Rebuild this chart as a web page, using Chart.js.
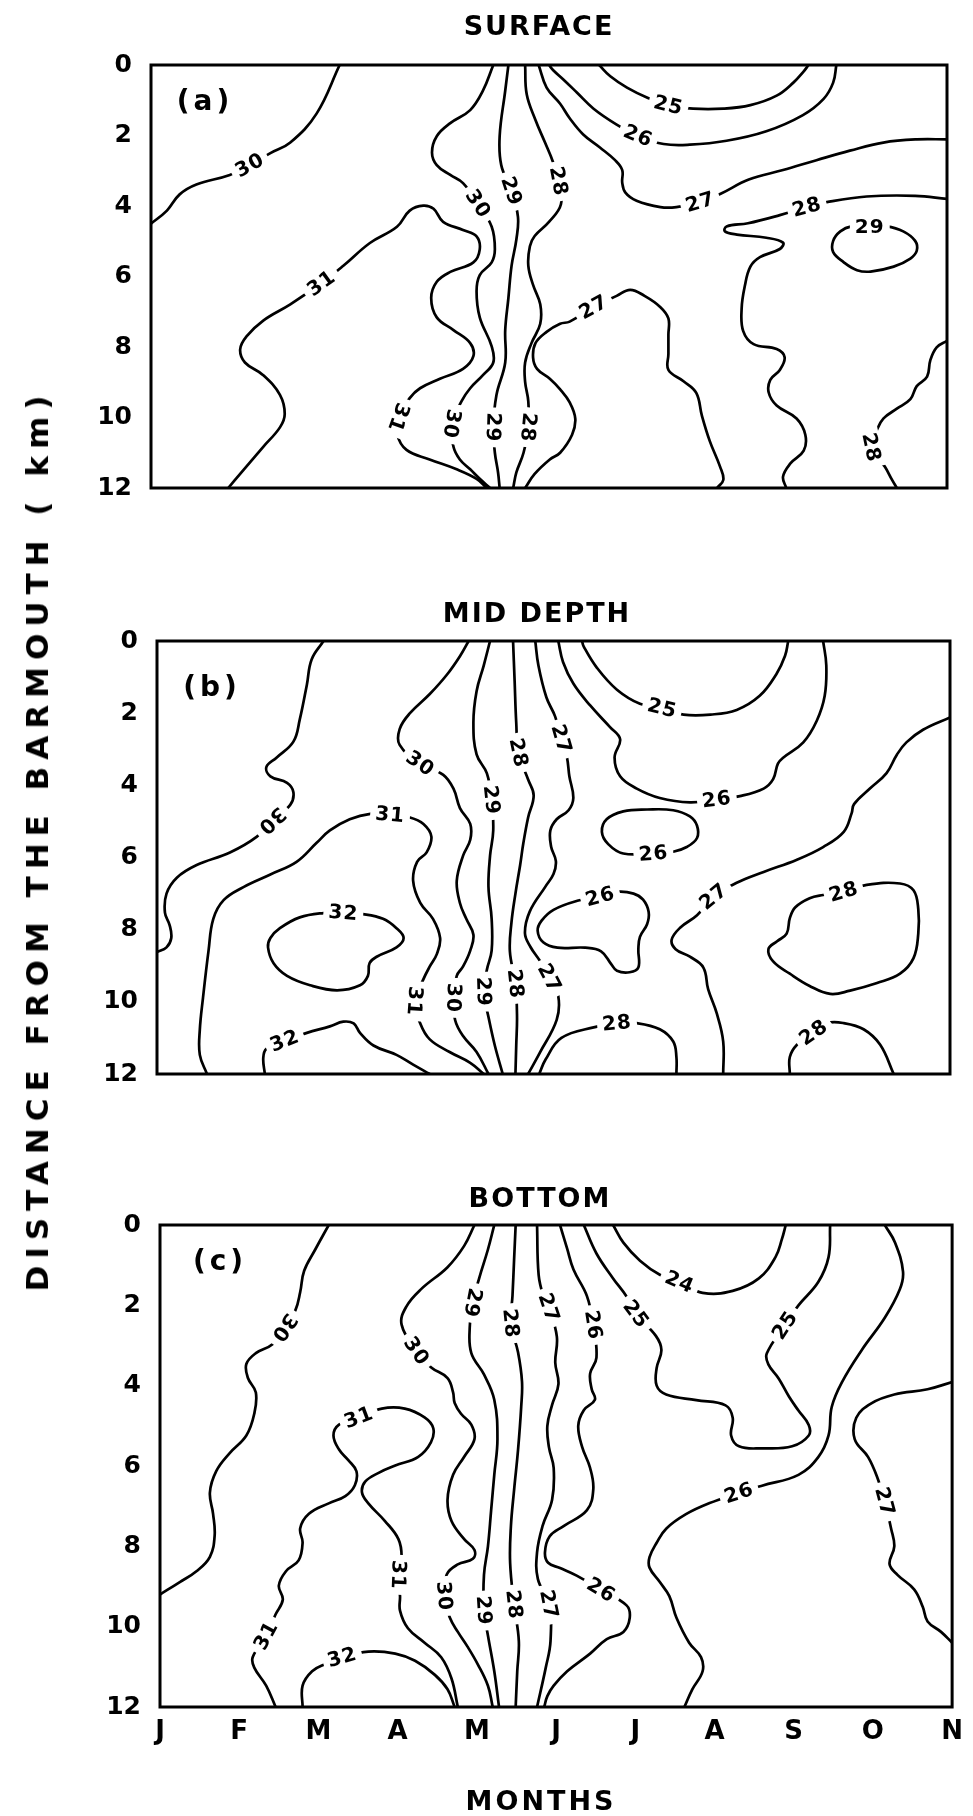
<!DOCTYPE html>
<html>
<head>
<meta charset="utf-8">
<title>Distance from the barmouth by month</title>
<script src="https://cdn.jsdelivr.net/npm/chart.js@4.4.1/dist/chart.umd.min.js"></script>
<style>
  html, body { margin: 0; padding: 0; background: #fff; }
  body { position: relative; width: 973px; height: 1816px; overflow: hidden; }
  canvas { position: absolute; left: 0; }
  .axis-title {
    position: absolute; white-space: nowrap; color: #000;
    font-family: "DejaVu Sans", sans-serif; font-weight: bold;
  }
  #ytitle {
    left: 37px; top: 840px; font-size: 31px; letter-spacing: 7px;
    transform: translate(-50%, -50%) rotate(-90deg);
  }
  #xtitle {
    left: 541px; top: 1800px; font-size: 27px; letter-spacing: 3px;
    transform: translate(-50%, -50%);
  }
</style>
</head>
<body>
<canvas id="surface" width="973" height="560" style="top:0;width:973px;height:560px"></canvas>
<canvas id="middepth" width="973" height="570" style="top:580px;width:973px;height:570px"></canvas>
<canvas id="bottom" width="973" height="656" style="top:1160px;width:973px;height:656px"></canvas>
<div id="ytitle" class="axis-title">DISTANCE FROM THE BARMOUTH ( km)</div>
<div id="xtitle" class="axis-title">MONTHS</div>

<script>
// x = month (0 = J ... 10 = N), y = km from the barmouth
const months = ['J', 'F', 'M', 'A', 'M', 'J', 'J', 'A', 'S', 'O', 'N'];
const depthTicks = [0, 2, 4, 6, 8, 10, 12];

// each contour: its level, where its labels sit, and the traced line
const surface = [
  { level: 30, labels: [[1.24, 2.84]], pts: [[0, 4.5], [0.2, 4.13], [0.36, 3.67], [0.57, 3.39], [0.99, 3.12], [1.24, 2.84], [1.5, 2.5], [1.75, 2.2], [2.08, 1.38], [2.37, 0]] },
  { level: 31, labels: [[2.14, 6.19], [3.11, 10.0]], pts: [[0.97, 12], [1.12, 11.6], [1.41, 10.83], [1.62, 10.28], [1.68, 9.9], [1.62, 9.36], [1.41, 8.8], [1.18, 8.44], [1.12, 8.07], [1.2, 7.7], [1.41, 7.25], [1.75, 6.79], [2.14, 6.19], [2.42, 5.69], [2.75, 5.05], [3.09, 4.59], [3.25, 4.13], [3.42, 3.99], [3.55, 4.08], [3.67, 4.45], [3.92, 4.68], [4.09, 4.86], [4.13, 5.23], [4.05, 5.6], [3.76, 5.87], [3.59, 6.15], [3.52, 6.61], [3.59, 7.16], [3.8, 7.52], [4.01, 7.89], [4.05, 8.26], [3.92, 8.62], [3.63, 8.9], [3.38, 9.17], [3.25, 9.45], [3.11, 10.0], [3.09, 10.46], [3.21, 10.92], [3.5, 11.19], [3.84, 11.47], [4.09, 11.74], [4.22, 12]] },
  { level: 30, labels: [[4.11, 3.94], [3.78, 10.18]], pts: [[4.3, 0], [4.17, 0.73], [4.01, 1.28], [3.76, 1.65], [3.59, 2.02], [3.53, 2.48], [3.59, 2.84], [3.76, 3.12], [3.92, 3.35], [4.11, 3.94], [4.28, 4.59], [4.32, 5.23], [4.28, 5.6], [4.13, 5.96], [4.09, 6.42], [4.13, 7.16], [4.28, 7.98], [4.3, 8.44], [4.17, 8.8], [4.01, 9.17], [3.9, 9.54], [3.78, 10.18], [3.8, 10.83], [3.88, 11.19], [4.01, 11.47], [4.13, 11.74], [4.26, 12]] },
  { level: 29, labels: [[4.53, 3.58], [4.3, 10.28]], pts: [[4.49, 0], [4.45, 0.73], [4.38, 2.02], [4.4, 2.84], [4.53, 3.58], [4.61, 4.31], [4.59, 4.95], [4.53, 5.69], [4.49, 6.61], [4.45, 7.52], [4.45, 8.44], [4.34, 9.36], [4.3, 10.28], [4.32, 11.0], [4.36, 11.56], [4.38, 12]] },
  { level: 28, labels: [[5.12, 3.3], [4.74, 10.28]], pts: [[4.7, 0], [4.72, 0.83], [4.83, 1.56], [4.95, 2.2], [5.05, 2.75], [5.12, 3.3], [5.15, 3.95], [5.0, 4.45], [4.82, 4.85], [4.76, 5.14], [4.74, 5.69], [4.8, 6.24], [4.89, 6.79], [4.89, 7.34], [4.78, 7.89], [4.7, 8.44], [4.7, 8.99], [4.74, 9.54], [4.74, 10.28], [4.68, 11.0], [4.59, 11.56], [4.55, 12]] },
  { level: 27, labels: [[6.9, 3.89]], pts: [[4.87, 0], [4.97, 0.64], [5.14, 1.1], [5.26, 1.51], [5.43, 1.97], [5.64, 2.34], [5.83, 2.7], [5.92, 2.98], [5.92, 3.34], [5.96, 3.62], [6.1, 3.85], [6.4, 4.03], [6.6, 4.03], [6.9, 3.89], [7.15, 3.66], [7.51, 3.25], [7.94, 2.98], [8.36, 2.7], [8.78, 2.43], [9.2, 2.2], [9.62, 2.11], [10, 2.11]] },
  { level: 26, labels: [[6.12, 2.01]], pts: [[5.0, 0], [5.05, 0.14], [5.18, 0.41], [5.35, 0.78], [5.56, 1.24], [5.85, 1.69], [6.12, 2.01], [6.44, 2.24], [6.77, 2.26], [7.23, 2.15], [7.73, 1.88], [8.19, 1.42], [8.45, 0.96], [8.57, 0.5], [8.61, 0]] },
  { level: 25, labels: [[6.5, 1.14]], pts: [[5.63, 0], [5.77, 0.32], [5.98, 0.64], [6.23, 0.92], [6.5, 1.14], [6.81, 1.24], [7.19, 1.24], [7.53, 1.14], [7.86, 0.87], [8.07, 0.5], [8.2, 0.18], [8.26, 0]] },
  { level: 28, labels: [[8.24, 4.03]], pts: [[7.98, 12], [7.94, 11.68], [8.03, 11.31], [8.2, 10.94], [8.22, 10.49], [8.11, 10.03], [7.86, 9.66], [7.76, 9.29], [7.78, 8.93], [7.9, 8.65], [7.96, 8.29], [7.86, 8.06], [7.57, 7.92], [7.44, 7.55], [7.42, 6.91], [7.46, 6.27], [7.53, 5.72], [7.65, 5.45], [7.9, 5.22], [7.94, 5.04], [7.73, 4.9], [7.36, 4.81], [7.21, 4.72], [7.23, 4.58], [7.5, 4.49], [7.9, 4.26], [8.24, 4.03], [8.49, 3.89], [8.99, 3.73], [9.6, 3.71], [10, 3.8]] },
  { level: 29, labels: [[9.03, 4.58]], pts: [[9.03, 4.58], [9.24, 4.58], [9.45, 4.72], [9.6, 4.99], [9.62, 5.27], [9.54, 5.49], [9.33, 5.72], [9.04, 5.86], [8.87, 5.82], [8.7, 5.59], [8.57, 5.31], [8.57, 4.99], [8.66, 4.72], [8.8, 4.58], [9.03, 4.58]] },
  { level: 27, labels: [[5.56, 6.87]], pts: [[4.7, 12], [4.82, 11.6], [5.01, 11.19], [5.14, 11.0], [5.29, 10.49], [5.33, 10.03], [5.26, 9.57], [5.14, 9.2], [5.01, 8.9], [4.85, 8.62], [4.8, 8.3], [4.83, 7.89], [4.97, 7.57], [5.14, 7.34], [5.26, 7.28], [5.56, 6.87], [5.85, 6.55], [6.02, 6.38], [6.2, 6.55], [6.4, 6.87], [6.5, 7.19], [6.5, 7.65], [6.5, 8.2], [6.5, 8.65], [6.69, 8.97], [6.85, 9.3], [6.92, 9.94], [7.02, 10.67], [7.15, 11.4], [7.19, 11.77], [7.11, 12]] },
  { level: 28, labels: [[9.05, 10.85]], pts: [[10, 7.83], [9.87, 8.01], [9.79, 8.38], [9.75, 8.84], [9.62, 9.11], [9.54, 9.48], [9.37, 9.75], [9.2, 10.03], [9.12, 10.35], [9.05, 10.85], [9.22, 11.4], [9.31, 11.77], [9.37, 12]] }
];

const midDepth = [
  { level: 30, labels: [[1.45, 4.98]], pts: [[2.1, 0], [1.95, 0.51], [1.89, 1.21], [1.8, 2.18], [1.72, 2.79], [1.51, 3.23], [1.38, 3.49], [1.43, 3.75], [1.64, 3.93], [1.72, 4.19], [1.68, 4.54], [1.45, 4.98], [1.26, 5.42], [0.92, 5.86], [0.5, 6.21], [0.25, 6.56], [0.12, 7.0], [0.1, 7.53], [0.16, 7.88], [0.18, 8.23], [0.12, 8.49], [0, 8.62]] },
  { level: 31, labels: [[2.94, 4.81], [3.25, 9.98]], pts: [[0.63, 12], [0.54, 11.47], [0.54, 10.77], [0.58, 9.89], [0.65, 8.58], [0.71, 7.7], [0.84, 7.18], [1.09, 6.82], [1.43, 6.47], [1.76, 6.12], [2.01, 5.6], [2.18, 5.25], [2.43, 4.94], [2.69, 4.79], [2.94, 4.81], [3.19, 4.89], [3.36, 5.07], [3.46, 5.42], [3.4, 5.86], [3.28, 6.12], [3.23, 6.65], [3.32, 7.26], [3.48, 7.7], [3.57, 8.23], [3.53, 8.67], [3.44, 9.02], [3.36, 9.37], [3.25, 9.98], [3.32, 10.6], [3.44, 11.04], [3.69, 11.39], [3.95, 11.69], [4.12, 12]] },
  { level: 32, labels: [[2.35, 7.53]], pts: [[2.35, 7.53], [2.6, 7.57], [2.85, 7.7], [3.02, 7.96], [3.11, 8.23], [3.02, 8.49], [2.77, 8.75], [2.68, 8.93], [2.66, 9.28], [2.56, 9.54], [2.27, 9.68], [1.93, 9.54], [1.64, 9.28], [1.47, 8.93], [1.4, 8.49], [1.43, 8.23], [1.55, 7.96], [1.8, 7.66], [2.1, 7.54], [2.35, 7.53]] },
  { level: 32, labels: [[1.61, 11.08]], pts: [[1.36, 12], [1.34, 11.56], [1.38, 11.3], [1.61, 11.08], [1.89, 10.86], [2.18, 10.68], [2.35, 10.55], [2.48, 10.6], [2.56, 10.86], [2.73, 11.21], [3.02, 11.47], [3.23, 11.74], [3.44, 12]] },
  { level: 30, labels: [[3.32, 3.4], [3.74, 9.89]], pts: [[3.93, 0], [3.82, 0.42], [3.65, 0.95], [3.44, 1.47], [3.19, 2.0], [3.06, 2.44], [3.06, 2.88], [3.32, 3.4], [3.61, 3.71], [3.74, 4.1], [3.82, 4.63], [3.95, 5.07], [3.95, 5.51], [3.86, 5.95], [3.78, 6.65], [3.82, 7.26], [3.9, 7.7], [3.99, 8.14], [3.95, 8.58], [3.86, 9.02], [3.78, 9.28], [3.74, 9.89], [3.76, 10.51], [3.86, 10.95], [4.03, 11.39], [4.18, 12]] },
  { level: 29, labels: [[4.22, 4.41], [4.12, 9.72]], pts: [[4.2, 0], [4.12, 0.68], [4.03, 1.39], [3.99, 2.26], [4.03, 3.14], [4.16, 3.67], [4.22, 4.41], [4.24, 5.25], [4.2, 5.95], [4.18, 6.82], [4.22, 7.7], [4.22, 8.58], [4.16, 9.11], [4.12, 9.72], [4.18, 10.42], [4.26, 11.21], [4.36, 12]] },
  { level: 28, labels: [[4.56, 3.1], [4.52, 9.5]], pts: [[4.49, 0], [4.51, 1.12], [4.53, 2.26], [4.56, 3.1], [4.68, 3.84], [4.75, 4.28], [4.68, 4.89], [4.62, 5.6], [4.58, 6.2], [4.52, 7.0], [4.47, 7.8], [4.45, 8.6], [4.52, 9.5], [4.54, 10.4], [4.53, 11.21], [4.52, 12]] },
  { level: 27, labels: [[5.1, 2.72], [4.95, 9.34]], pts: [[4.77, 0], [4.81, 0.68], [4.91, 1.56], [5.02, 2.09], [5.1, 2.72], [5.17, 3.23], [5.2, 3.75], [5.25, 4.35], [5.19, 4.69], [5.04, 4.94], [4.96, 5.25], [4.97, 5.7], [5.03, 6.1], [5.0, 6.46], [4.9, 6.8], [4.7, 7.5], [4.64, 8.1], [4.71, 8.48], [4.83, 8.87], [4.95, 9.34], [5.06, 9.84], [5.04, 10.5], [4.83, 11.4], [4.68, 12]] },
  { level: 25, labels: [[6.37, 1.86]], pts: [[5.36, 0], [5.38, 0.15], [5.55, 0.75], [5.8, 1.35], [6.09, 1.74], [6.37, 1.86], [6.64, 2.04], [6.98, 2.04], [7.31, 1.91], [7.6, 1.52], [7.81, 0.92], [7.92, 0.41], [7.96, 0]] },
  { level: 26, labels: [[7.06, 4.39]], pts: [[5.06, 0], [5.12, 0.58], [5.25, 1.18], [5.46, 1.78], [5.71, 2.38], [5.84, 2.72], [5.77, 3.23], [5.84, 3.75], [6.05, 4.09], [6.34, 4.35], [6.72, 4.47], [7.06, 4.39], [7.35, 4.3], [7.65, 4.09], [7.77, 3.83], [7.83, 3.4], [7.9, 3.23], [8.15, 2.81], [8.32, 2.21], [8.42, 1.52], [8.44, 0.67], [8.4, 0]] },
  { level: 26, labels: [[6.26, 5.89]], pts: [[6.26, 5.89], [6.51, 5.84], [6.68, 5.71], [6.81, 5.46], [6.81, 5.12], [6.72, 4.86], [6.51, 4.69], [6.18, 4.67], [5.88, 4.72], [5.67, 4.94], [5.61, 5.29], [5.69, 5.63], [5.88, 5.89], [6.26, 5.89]] },
  { level: 26, labels: [[5.59, 7.08]], pts: [[5.59, 7.08], [5.8, 6.95], [6.01, 7.0], [6.13, 7.17], [6.2, 7.51], [6.18, 7.85], [6.09, 8.2], [6.07, 8.54], [6.07, 9.05], [5.96, 9.18], [5.8, 9.14], [5.73, 8.96], [5.6, 8.6], [5.4, 8.5], [5.05, 8.5], [4.87, 8.35], [4.8, 8.03], [4.85, 7.75], [5.0, 7.45], [5.3, 7.2], [5.59, 7.08]] },
  { level: 27, labels: [[7.02, 7.08]], pts: [[7.14, 12], [7.14, 11.1], [7.06, 10.33], [6.95, 9.65], [6.89, 9.05], [6.72, 8.75], [6.54, 8.54], [6.49, 8.28], [6.6, 7.94], [6.81, 7.6], [7.02, 7.08], [7.31, 6.7], [7.65, 6.4], [8.07, 6.06], [8.4, 5.71], [8.66, 5.29], [8.76, 4.77], [8.79, 4.52], [8.99, 4.09], [9.2, 3.66], [9.33, 3.15], [9.45, 2.81], [9.66, 2.46], [10, 2.12]] },
  { level: 28, labels: [[8.66, 6.95]], pts: [[8.66, 6.95], [8.95, 6.76], [9.37, 6.72], [9.54, 6.91], [9.6, 7.43], [9.6, 8.11], [9.54, 8.79], [9.37, 9.22], [9.08, 9.48], [8.74, 9.69], [8.49, 9.78], [8.23, 9.56], [7.98, 9.22], [7.77, 8.88], [7.71, 8.54], [7.82, 8.32], [7.94, 8.11], [7.98, 7.68], [8.05, 7.38], [8.23, 7.13], [8.4, 7.04], [8.66, 6.95]] },
  { level: 28, labels: [[5.8, 10.59]], pts: [[4.82, 12], [4.9, 11.6], [5.1, 11.0], [5.52, 10.7], [5.8, 10.59], [6.05, 10.59], [6.34, 10.76], [6.51, 11.1], [6.55, 11.53], [6.55, 12]] },
  { level: 28, labels: [[8.28, 10.85]], pts: [[7.98, 12], [7.98, 11.53], [8.07, 11.19], [8.28, 10.85], [8.45, 10.59], [8.66, 10.59], [8.91, 10.76], [9.12, 11.19], [9.29, 12]] }
];

const bottom = [
  { level: 30, labels: [[1.57, 2.56]], pts: [[2.13, 0], [1.96, 0.61], [1.82, 1.14], [1.77, 1.67], [1.71, 2.12], [1.57, 2.56], [1.42, 2.97], [1.21, 3.19], [1.09, 3.46], [1.11, 3.81], [1.21, 4.17], [1.19, 4.7], [1.09, 5.24], [0.88, 5.68], [0.71, 6.13], [0.63, 6.66], [0.67, 7.19], [0.69, 7.73], [0.63, 8.26], [0.46, 8.62], [0.25, 8.89], [0, 9.2]] },
  { level: 31, labels: [[1.34, 10.22], [2.51, 4.79], [3.01, 8.71]], pts: [[1.46, 12], [1.34, 11.47], [1.19, 11.02], [1.17, 10.76], [1.34, 10.22], [1.46, 9.69], [1.55, 9.33], [1.5, 8.98], [1.59, 8.62], [1.75, 8.35], [1.8, 7.91], [1.77, 7.55], [1.88, 7.19], [2.13, 6.93], [2.34, 6.75], [2.46, 6.48], [2.48, 6.13], [2.38, 5.86], [2.26, 5.59], [2.19, 5.24], [2.26, 4.97], [2.51, 4.79], [2.8, 4.57], [3.09, 4.57], [3.34, 4.79], [3.45, 5.06], [3.42, 5.41], [3.26, 5.77], [2.97, 5.99], [2.76, 6.17], [2.59, 6.39], [2.55, 6.66], [2.63, 6.93], [2.84, 7.37], [3.01, 7.82], [3.05, 8.26], [3.01, 8.71], [3.03, 9.24], [3.03, 9.6], [3.13, 10.04], [3.34, 10.4], [3.55, 10.76], [3.68, 11.29], [3.76, 12]] },
  { level: 32, labels: [[2.3, 10.76]], pts: [[1.8, 12], [1.8, 11.47], [1.92, 11.11], [2.09, 10.93], [2.3, 10.76], [2.63, 10.62], [2.97, 10.67], [3.22, 10.85], [3.47, 11.2], [3.63, 11.56], [3.72, 12]] },
  { level: 30, labels: [[3.24, 3.14], [3.59, 9.24]], pts: [[3.97, 0], [3.84, 0.52], [3.63, 1.05], [3.3, 1.59], [3.11, 2.03], [3.05, 2.48], [3.24, 3.14], [3.42, 3.54], [3.63, 3.81], [3.7, 4.17], [3.72, 4.43], [3.8, 4.7], [3.93, 4.97], [3.97, 5.33], [3.84, 5.77], [3.7, 6.22], [3.63, 6.84], [3.68, 7.37], [3.84, 7.82], [3.97, 8.09], [3.95, 8.31], [3.76, 8.45], [3.62, 8.7], [3.59, 9.24], [3.66, 9.78], [3.76, 10.13], [3.88, 10.49], [4.01, 10.93], [4.14, 11.47], [4.2, 12]] },
  { level: 29, labels: [[3.95, 1.94], [4.09, 9.6]], pts: [[4.22, 0], [4.14, 0.61], [4.03, 1.32], [3.95, 1.94], [3.91, 2.56], [3.93, 3.19], [4.09, 3.72], [4.22, 4.35], [4.26, 5.33], [4.22, 6.22], [4.18, 7.11], [4.14, 8.0], [4.09, 8.71], [4.09, 9.6], [4.14, 10.22], [4.22, 11.11], [4.28, 12]] },
  { level: 28, labels: [[4.43, 2.45], [4.47, 9.45]], pts: [[4.49, 0], [4.47, 0.87], [4.45, 1.76], [4.43, 2.45], [4.52, 3.17], [4.57, 3.9], [4.56, 4.52], [4.52, 5.6], [4.47, 6.6], [4.43, 7.5], [4.42, 8.41], [4.47, 9.45], [4.53, 10.36], [4.51, 11.11], [4.49, 12]] },
  { level: 27, labels: [[4.91, 2.06], [4.91, 9.45]], pts: [[4.76, 0], [4.78, 1.24], [4.84, 1.77], [4.91, 2.06], [5.01, 2.78], [4.99, 3.43], [5.03, 3.96], [4.95, 4.48], [4.89, 5.0], [4.91, 5.53], [4.97, 6.05], [4.95, 6.84], [4.83, 7.49], [4.76, 8.15], [4.77, 8.81], [4.91, 9.45], [4.93, 10.36], [4.87, 11.02], [4.76, 12]] },
  { level: 26, labels: [[5.47, 2.49], [5.57, 9.09]], pts: [[5.05, 0], [5.14, 0.59], [5.22, 1.11], [5.39, 1.77], [5.47, 2.49], [5.51, 3.3], [5.43, 3.7], [5.45, 4.09], [5.49, 4.35], [5.35, 4.61], [5.28, 5.0], [5.33, 5.53], [5.43, 6.05], [5.47, 6.58], [5.39, 7.1], [5.1, 7.49], [4.92, 7.75], [4.86, 8.15], [4.9, 8.41], [5.05, 8.54], [5.26, 8.73], [5.57, 9.09], [5.89, 9.47], [5.93, 9.78], [5.85, 10.13], [5.64, 10.31], [5.43, 10.67], [5.14, 11.11], [4.97, 11.47], [4.89, 11.73], [4.85, 12]] },
  { level: 24, labels: [[6.56, 1.42]], pts: [[5.72, 0], [5.85, 0.44], [6.06, 0.89], [6.31, 1.24], [6.56, 1.42], [6.85, 1.69], [7.23, 1.64], [7.56, 1.33], [7.77, 0.8], [7.85, 0.36], [7.9, 0]] },
  { level: 25, labels: [[6.01, 2.22], [7.89, 2.49]], pts: [[5.35, 0], [5.51, 0.71], [5.72, 1.33], [5.89, 1.78], [6.01, 2.22], [6.26, 2.76], [6.33, 3.11], [6.27, 3.56], [6.27, 4.0], [6.39, 4.22], [6.77, 4.36], [7.14, 4.49], [7.23, 4.8], [7.21, 5.24], [7.31, 5.51], [7.6, 5.56], [7.98, 5.51], [8.19, 5.24], [8.19, 4.98], [8.06, 4.62], [7.94, 4.27], [7.81, 3.82], [7.68, 3.47], [7.66, 3.2], [7.89, 2.49], [8.06, 2.0], [8.31, 1.42], [8.44, 0.8], [8.46, 0]] },
  { level: 26, labels: [[7.31, 6.67]], pts: [[6.62, 12], [6.72, 11.56], [6.85, 11.11], [6.83, 10.76], [6.68, 10.4], [6.52, 9.78], [6.43, 9.24], [6.31, 8.89], [6.18, 8.53], [6.18, 8.27], [6.27, 7.91], [6.39, 7.56], [6.64, 7.2], [6.93, 6.93], [7.31, 6.67], [7.6, 6.49], [8.06, 6.22], [8.31, 5.78], [8.44, 5.24], [8.48, 4.53], [8.61, 3.91], [8.86, 3.11], [9.15, 2.31], [9.34, 1.6], [9.38, 1.16], [9.28, 0.44], [9.15, 0]] },
  { level: 27, labels: [[9.15, 6.89]], pts: [[10, 3.91], [9.69, 4.09], [9.27, 4.22], [8.98, 4.44], [8.79, 4.8], [8.77, 5.33], [8.94, 5.78], [9.06, 6.31], [9.15, 6.89], [9.23, 7.56], [9.27, 8.0], [9.21, 8.44], [9.31, 8.71], [9.52, 9.07], [9.63, 9.51], [9.69, 9.87], [9.86, 10.13], [10, 10.4]] }
];

Chart.defaults.font.family = '"DejaVu Sans", sans-serif';
Chart.defaults.color = '#000';

// level numbers written along the line, on a white patch that breaks it
function contourLabels(contours) {
  return {
    id: 'contourLabels',
    afterDatasetsDraw(chart) {
      const { ctx, scales: { x, y } } = chart;
      const px = p => [x.getPixelForValue(p[0]), y.getPixelForValue(p[1])];
      ctx.save();
      ctx.font = 'bold 20px "DejaVu Sans"';
      ctx.letterSpacing = '1px';
      ctx.textAlign = 'center';
      ctx.textBaseline = 'middle';
      contours.forEach(c => {
        c.labels.forEach(lab => {
          let k = 0, best = Infinity;
          c.pts.forEach((p, i) => {
            const d = (p[0] - lab[0]) ** 2 + (p[1] - lab[1]) ** 2;
            if (d < best) { best = d; k = i; }
          });
          const a = px(c.pts[Math.max(k - 1, 0)]);
          const b = px(c.pts[Math.min(k + 1, c.pts.length - 1)]);
          const ang = Math.atan2(b[1] - a[1], b[0] - a[0]);
          const [lx, ly] = px(lab);
          const text = String(c.level);
          const w = ctx.measureText(text).width + 10;
          ctx.save();
          ctx.translate(lx, ly);
          ctx.rotate(ang);
          ctx.fillStyle = '#fff';
          ctx.fillRect(-w / 2, -10, w, 20);
          ctx.fillStyle = '#000';
          ctx.fillText(text, 0, 1);
          ctx.restore();
        });
      });
      ctx.restore();
    }
  };
}

// box round the plot, panel heading and letter
function decor(panel) {
  return {
    id: 'decor',
    afterDraw(chart) {
      const { ctx, chartArea: a } = chart;
      ctx.save();
      ctx.strokeStyle = '#000';
      ctx.lineWidth = 3;
      ctx.strokeRect(a.left, a.top, a.right - a.left, a.bottom - a.top);
      ctx.fillStyle = '#000';
      ctx.textAlign = 'center';
      ctx.textBaseline = 'middle';
      ctx.font = 'bold 27px "DejaVu Sans"';
      ctx.letterSpacing = '2px';
      ctx.fillText(panel.title, panel.titleX, a.top + panel.titleDy);
      ctx.font = 'bold 28px "DejaVu Sans"';
      ctx.letterSpacing = '4px';
      ctx.fillText(panel.tag, a.left + panel.tagDx, a.top + panel.tagDy);
      ctx.restore();
    }
  };
}

function drawPanel(id, contours, panel) {
  return new Chart(document.getElementById(id), {
    type: 'scatter',
    data: {
      datasets: contours.map(c => ({
        label: String(c.level),
        data: c.pts.map(p => ({ x: p[0], y: p[1] })),
        showLine: true,
        borderColor: '#000',
        borderWidth: 2.7,
        pointRadius: 0,
        pointHoverRadius: 0,
        tension: 0.4,
        fill: false
      }))
    },
    options: {
      responsive: false,
      animation: false,
      devicePixelRatio: 1,
      events: [],
      layout: { padding: panel.padding },
      plugins: { legend: { display: false }, tooltip: { enabled: false } },
      scales: {
        x: {
          type: 'linear',
          min: 0,
          max: months.length - 1,
          display: !!panel.showMonths,
          afterFit: s => { s.height = 50; },
          grid: { display: false, drawTicks: false },
          border: { display: false },
          ticks: {
            stepSize: 1, autoSkip: false, maxRotation: 0, padding: 10,
            font: { size: 26, weight: 'bold' },
            callback: v => months[v]
          }
        },
        y: {
          type: 'linear',
          reverse: true,
          min: depthTicks[0],
          max: depthTicks[depthTicks.length - 1],
          afterFit: s => { s.width = 60; },
          grid: { display: false, drawTicks: false },
          border: { display: false },
          ticks: {
            stepSize: depthTicks[1] - depthTicks[0], padding: 19,
            font: { size: 25, weight: 'bold' }
          }
        }
      }
    },
    plugins: [contourLabels(contours), decor(panel)]
  });
}

drawPanel('surface', surface, {
  title: 'SURFACE', titleX: 539, titleDy: -37, tag: '(a)', tagDx: 54, tagDy: 38,
  padding: { left: 91, right: 26, top: 65, bottom: 22 }
});
drawPanel('middepth', midDepth, {
  title: 'MID DEPTH', titleX: 537, titleDy: -26, tag: '(b)', tagDx: 55, tagDy: 48,
  padding: { left: 97, right: 23, top: 61, bottom: 26 }
});
drawPanel('bottom', bottom, {
  title: 'BOTTOM', titleX: 540, titleDy: -25, tag: '(c)', tagDx: 60, tagDy: 38,
  showMonths: true,
  padding: { left: 100, right: 15, top: 65, bottom: 59 }
});
</script>
</body>
</html>
